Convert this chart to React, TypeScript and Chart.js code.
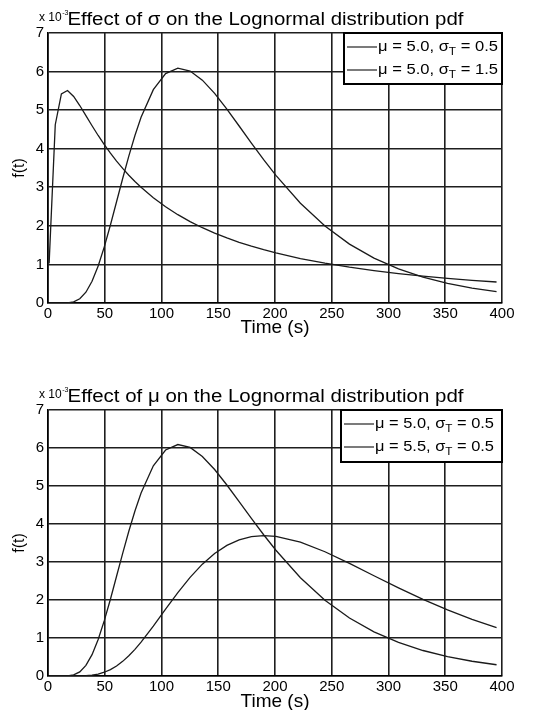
import React, { useEffect, useRef } from "react";
import { Chart, registerables } from "chart.js";

Chart.register(...registerables);

// ---- data (values in units of 1e-3) ----
const timeS = [
  1, 6.4, 11.8, 17.2, 22.6, 28, 33.4, 38.8, 44.2, 49.6, 55, 60.4, 65.8, 71.2, 76.6, 82,
  92.8, 103.6, 114.4, 125.2, 136, 146.8, 157.6, 168.4, 179.2, 190, 200.8, 222.4, 244,
  265.6, 287.2, 308.8, 330.4, 352, 373.6, 395.2,
];
const pdfMu50Sig05 = [
  0, 0, 0, 0.004, 0.03, 0.109, 0.28, 0.562, 0.96, 1.456, 2.021, 2.624, 3.228, 3.809, 4.343, 4.813,
  5.532, 5.947, 6.091, 6.015, 5.778, 5.434, 5.026, 4.589, 4.147, 3.717, 3.31, 2.586, 1.994,
  1.526, 1.162, 0.883, 0.671, 0.51, 0.388, 0.296,
];
const pdfMu50Sig15 = [
  1.028, 4.622, 5.423, 5.51, 5.356, 5.12, 4.857, 4.595, 4.343, 4.106, 3.884, 3.679, 3.489, 3.313, 3.151, 3.0,
  2.729, 2.495, 2.29, 2.111, 1.952, 1.812, 1.686, 1.574, 1.472, 1.381, 1.298, 1.153, 1.032,
  0.929, 0.841, 0.764, 0.698, 0.64, 0.589, 0.544,
];
const pdfMu55Sig05 = [
  0, 0, 0, 0, 0, 0.002, 0.009, 0.023, 0.052, 0.099, 0.168, 0.264, 0.385, 0.532, 0.702, 0.891,
  1.312, 1.758, 2.195, 2.596, 2.943, 3.225, 3.438, 3.584, 3.667, 3.695, 3.675, 3.523, 3.27,
  2.964, 2.639, 2.319, 2.016, 1.74, 1.493, 1.275,
];

const xMin = 0;
const xMax = 400;
const xStep = 50;
const yMin = 0;
const yMax = 7;
const yStep = 1;

const xLabel = "Time (s)";
const yLabel = "f(t)";
const exponentBase = "x 10";
const exponentPower = "-3";
const topTitle = "Effect of σ on the Lognormal distribution pdf";
const bottomTitle = "Effect of μ on the Lognormal distribution pdf";
// legend labels: [before subscript, subscript, after subscript]
const topLegend = [
  ["μ = 5.0, σ", "T", " = 0.5"],
  ["μ = 5.0, σ", "T", " = 1.5"],
];
const bottomLegend = [
  ["μ = 5.0, σ", "T", " = 0.5"],
  ["μ = 5.5, σ", "T", " = 0.5"],
];

const FONT = "'Liberation Sans', Arial, Helvetica, sans-serif";
const W = 553;
const H = 355;

function toPoints(ys: number[]) {
  return timeS.map((t, i) => ({ x: t, y: ys[i] }));
}

function overlayPlugin(
  title: string,
  legend: string[][],
  legendWidth: number,
  legendHeight: number,
  legendTextWidth: number
) {
  return {
    id: "overlay",
    afterDraw(chart: any) {
      const ctx = chart.ctx as CanvasRenderingContext2D;
      const a = chart.chartArea;
      ctx.save();
      ctx.fillStyle = "#000";
      ctx.textAlign = "left";
      ctx.textBaseline = "alphabetic";
      // exponent
      ctx.font = `12px ${FONT}`;
      ctx.fillText(exponentBase, 39, a.top - 12);
      const bw = ctx.measureText(exponentBase).width;
      ctx.font = `7px ${FONT}`;
      ctx.fillText(exponentPower, 39 + bw + 0.5, a.top - 18);
      // title, stretched horizontally to the reference width
      ctx.font = `18px ${FONT}`;
      const tw = ctx.measureText(title).width;
      const tx = 67.5;
      const targetW = 396;
      ctx.save();
      ctx.translate(tx, a.top - 8);
      ctx.scale(targetW / tw, 1);
      ctx.fillText(title, 0, 0);
      ctx.restore();

      // legend box
      const bx = a.right - legendWidth;
      const by = a.top;
      ctx.fillStyle = "#fff";
      ctx.fillRect(bx, by, legendWidth, legendHeight);
      ctx.strokeStyle = "#000";
      ctx.lineWidth = 2;
      ctx.strokeRect(bx, by, legendWidth, legendHeight);
      legend.forEach((parts, i) => {
        const cy = by + 14 + i * 23;
        ctx.strokeStyle = "#222";
        ctx.lineWidth = 1.2;
        ctx.beginPath();
        ctx.moveTo(bx + 3, cy);
        ctx.lineTo(bx + 33, cy);
        ctx.stroke();
        ctx.fillStyle = "#000";
        ctx.textBaseline = "middle";
        ctx.font = `14px ${FONT}`;
        const w0 = ctx.measureText(parts[0]).width;
        const w2 = ctx.measureText(parts[2]).width;
        ctx.font = `10px ${FONT}`;
        const w1 = ctx.measureText(parts[1]).width;
        const sx = legendTextWidth / (w0 + w1 + w2);
        ctx.save();
        ctx.translate(bx + 34, cy);
        ctx.scale(sx, 1);
        ctx.font = `14px ${FONT}`;
        ctx.fillText(parts[0], 0, 0);
        ctx.font = `10px ${FONT}`;
        ctx.fillText(parts[1], w0, 5);
        ctx.font = `14px ${FONT}`;
        ctx.fillText(parts[2], w0 + w1, 0);
        ctx.restore();
      });
      ctx.restore();
    },
  };
}

function makeConfig(
  series: number[][],
  title: string,
  legend: string[][],
  padTop: number,
  xAxisHeight: number,
  xTitlePadBottom: number,
  legendWidth: number,
  legendHeight: number,
  legendTextWidth: number
): any {
  return {
    type: "line",
    data: {
      datasets: series.map((s) => ({
        data: toPoints(s),
        borderColor: "#1a1a1a",
        borderWidth: 1.3,
        pointRadius: 0,
        tension: 0,
        fill: false,
      })),
    },
    options: {
      animation: false,
      responsive: false,
      devicePixelRatio: 1,
      layout: { padding: { top: padTop, right: W - 502, left: 0, bottom: 0 } },
      plugins: { legend: { display: false }, title: { display: false }, tooltip: { enabled: false } },
      scales: {
        x: {
          type: "linear",
          min: xMin,
          max: xMax,
          afterFit: (s: any) => {
            s.height = xAxisHeight;
          },
          ticks: {
            stepSize: xStep,
            color: "#000",
            padding: 2,
            maxRotation: 0,
            font: { family: FONT, size: 15 },
          },
          grid: { color: "#1e1e1e", lineWidth: 1.6, drawTicks: false, tickLength: 0 },
          border: { display: true, color: "#000", width: 1.6 },
          title: {
            display: true,
            text: xLabel,
            color: "#000",
            font: { family: FONT, size: 19, lineHeight: 0.8 },
            padding: { top: 0, bottom: xTitlePadBottom },
          },
        },
        y: {
          type: "linear",
          min: yMin,
          max: yMax,
          afterFit: (s: any) => {
            s.width = 48;
          },
          ticks: {
            stepSize: yStep,
            color: "#000",
            padding: 4,
            font: { family: FONT, size: 15 },
          },
          grid: { color: "#1e1e1e", lineWidth: 1.6, drawTicks: false, tickLength: 0 },
          border: { display: true, color: "#000", width: 1.6 },
          title: {
            display: true,
            text: yLabel,
            color: "#000",
            font: { family: FONT, size: 16, lineHeight: 1 },
            padding: { top: 12, bottom: 0 },
          },
        },
      },
    },
    plugins: [overlayPlugin(title, legend, legendWidth, legendHeight, legendTextWidth)],
  };
}

function ChartCanvas({ config, top }: { config: any; top: number }) {
  const ref = useRef<HTMLCanvasElement | null>(null);
  useEffect(() => {
    if (!ref.current) return;
    const chart = new Chart(ref.current, config);
    return () => chart.destroy();
  }, [config]);
  return (
    <canvas
      ref={ref}
      width={W}
      height={H}
      style={{ position: "absolute", left: 0, top, width: W, height: H, display: "block" }}
    />
  );
}

const topConfig = makeConfig([pdfMu50Sig05, pdfMu50Sig15], topTitle, topLegend, 33, H - 303, 19.4, 158, 51, 120);
const bottomConfig = makeConfig([pdfMu50Sig05, pdfMu55Sig05], bottomTitle, bottomLegend, 55, H - 321, 0.4, 161, 52, 119);

export default function App() {
  return (
    <div style={{ position: "fixed", left: 0, top: 0, width: W, height: 710, background: "#fff" }}>
      <ChartCanvas config={topConfig} top={0} />
      <ChartCanvas config={bottomConfig} top={355} />
    </div>
  );
}
